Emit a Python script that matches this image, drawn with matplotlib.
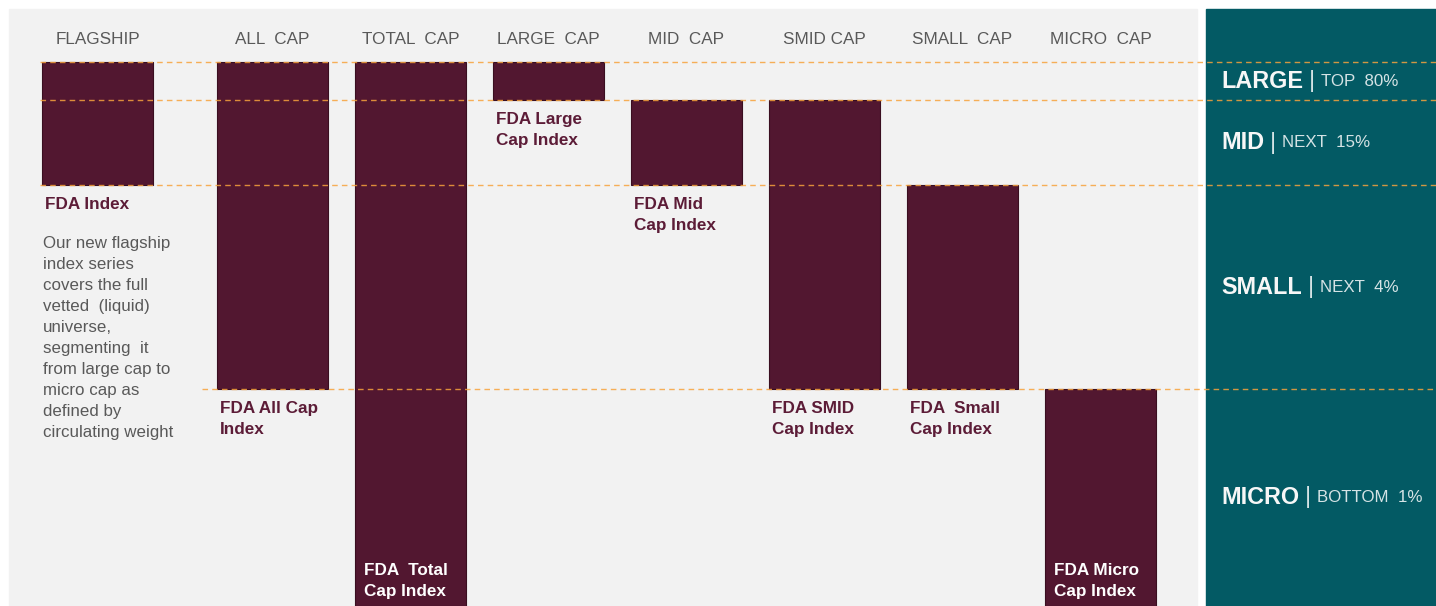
import matplotlib.pyplot as plt
from matplotlib.patches import Rectangle
import numpy as np

plt.rcParams["font.family"] = ["Liberation Sans", "DejaVu Sans"]

# size tiers and their (visual) band edges, top to bottom
tiers = ["LARGE", "MID", "SMALL", "MICRO"]
tier_desc = ["TOP  80%", "NEXT  15%", "NEXT  4%", "BOTTOM  1%"]
tier_edges = [0, 38, 123, 327, 544]

# index families and the tiers each one spans
categories = ["FLAGSHIP", "ALL  CAP", "TOTAL  CAP", "LARGE  CAP", "MID  CAP",
              "SMID CAP", "SMALL  CAP", "MICRO  CAP"]
index_names = ["FDA Index", "FDA All Cap\nIndex", "FDA  Total\nCap Index",
               "FDA Large\nCap Index", "FDA Mid\nCap Index", "FDA SMID\nCap Index",
               "FDA  Small\nCap Index", "FDA Micro\nCap Index"]
tier_from = [0, 0, 0, 0, 1, 1, 2, 3]
tier_to = [2, 3, 4, 1, 2, 3, 3, 4]

blurb = ("Our new flagship\nindex series\ncovers the full\nvetted  (liquid)\n"
         "universe,\nsegmenting  it\nfrom large cap to\nmicro cap as\n"
         "defined by\ncirculating weight")

BAR = "#521730"
LABEL = "#5C1C37"
GREY_TXT = "#595959"
TEAL = "#035A64"
ORANGE = "#F7A23C"

W, H = 1436, 606
fig = plt.figure(figsize=(W / 100, H / 100), dpi=100)
fig.patches.append(Rectangle((9 / W, 0), (1197 - 9) / W, (H - 9) / H,
                             transform=fig.transFigure, color="#F2F2F2", zorder=-2))
fig.patches.append(Rectangle((1206 / W, 0), (W - 1206) / W, (H - 9) / H,
                             transform=fig.transFigure, color=TEAL, zorder=-2))

ax = fig.add_axes([0, 0, 1, 1])
ax.patch.set_visible(False)
ax.axis("off")

step = 138.0
x0 = 97.5
pos = np.arange(len(categories)) + np.where(np.arange(len(categories)) > 0, 0.268, 0)
ax.set_xlim(-x0 / step, (W - x0) / step)
ax.set_ylim(H - 62, -62)
width = 0.80

bottoms = [tier_edges[a] for a in tier_from]
heights = [tier_edges[b] - tier_edges[a] for a, b in zip(tier_from, tier_to)]
ax.bar(pos, heights, bottom=bottoms, width=width, color=BAR,
       edgecolor="#3A0E20", linewidth=0.8, zorder=2)

# dashed tier boundaries
for k, y in enumerate(tier_edges[:-1]):
    start = pos[0] - width / 2 - 0.015 if k < 3 else pos[1] - width / 2 - 0.11
    ax.plot([start, ax.get_xlim()[1]], [y, y], color=ORANGE, lw=1.0,
            ls=(0, (4, 3)), alpha=0.85, zorder=3)

for i, cat in enumerate(categories):
    ax.annotate(cat, (pos[i], tier_edges[0]), xytext=(0, 22), textcoords="offset pixels",
                ha="center", va="center", fontsize=12.3, color=GREY_TXT)
    left = pos[i] - width / 2
    if tier_to[i] == len(tiers):
        ax.annotate(index_names[i], (left, tier_edges[-1]), xytext=(9, 7),
                    textcoords="offset pixels", ha="left", va="bottom",
                    fontsize=12.3, fontweight="bold", color="white",
                    linespacing=1.5, zorder=4)
    else:
        ax.annotate(index_names[i], (left, tier_edges[tier_to[i]]), xytext=(3, -12),
                    textcoords="offset pixels", ha="left", va="top",
                    fontsize=12.3, fontweight="bold", color=LABEL,
                    linespacing=1.5, zorder=4)

ax.annotate(blurb, (pos[0] - width / 2, tier_edges[2]), xytext=(1, -51),
            textcoords="offset pixels", ha="left", va="top", fontsize=12.2,
            color=GREY_TXT, linespacing=1.5)

# tier legend on the teal panel
tr = ax.get_yaxis_transform()
for k, name in enumerate(tiers):
    mid = (tier_edges[k] + tier_edges[k + 1]) / 2
    t1 = ax.text(1221 / W, mid, name, transform=tr, ha="left", va="center",
                 fontsize=16.8, fontweight="bold", color="#F7F7F7")
    t2 = ax.annotate("|", xy=(1, 0.5), xycoords=t1, xytext=(6, 0),
                     textcoords="offset pixels", ha="left", va="center",
                     fontsize=17, color="#D5E3E5")
    ax.annotate(tier_desc[k], xy=(1, 0.5), xycoords=t2, xytext=(6, 0),
                textcoords="offset pixels", ha="left", va="center",
                fontsize=12.2, color="#D5E3E5")

fig.savefig("out.png", dpi=100, facecolor="white")
